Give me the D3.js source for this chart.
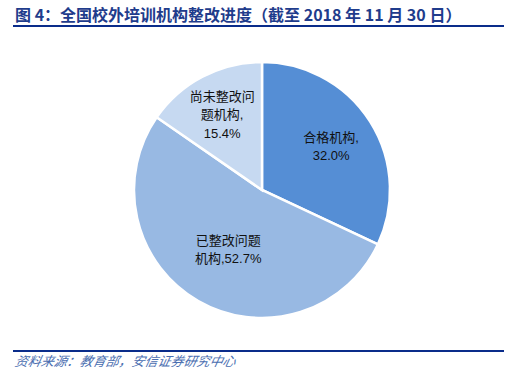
<!DOCTYPE html>
<html>
<head>
<meta charset="utf-8">
<script src="https://cdn.jsdelivr.net/npm/d3@7"></script>
<style>
  body { margin: 0; background: #fff; }
</style>
</head>
<body>
<div id="wrapper"></div>
<script>
// Data
const categories = ["合格机构", "已整改问题机构", "尚未整改问题机构"];
const values = [32.0, 52.7, 15.4];
const labelLines = [
    ["合格机构,", "32.0%"],
    ["已整改问题", "机构,52.7%"],
    ["尚未整改问", "题机构,", "15.4%"]
];
const colors = ["#558ed5", "#98b9e3", "#c6d9f1"];

const title = "图 4：全国校外培训机构整改进度（截至 2018 年 11 月 30 日）";
const source = "资料来源：教育部，安信证券研究中心";

let dimension = {
    width: 526,
    height: 388,
    cx: 262,
    cy: 190,
    radius: 128,
}

const svg = d3.select("#wrapper")
    .append("svg")
    .attr("width", dimension.width)
    .attr("height", dimension.height)

// Title and rules
svg.append("text")
    .attr("x", 15)
    .attr("y", 21)
    .attr("font-family", "'Noto Sans CJK SC', 'Liberation Sans', sans-serif")
    .attr("font-size", 16)
    .attr("font-weight", "bold")
    .attr("fill", "#1f3c8c")
    .text(title)

svg.append("rect")
    .attr("x", 13).attr("y", 25)
    .attr("width", 491).attr("height", 2)
    .attr("fill", "#0a2c8a")

svg.append("rect")
    .attr("x", 13).attr("y", 350)
    .attr("width", 491).attr("height", 2)
    .attr("fill", "#0a2c8a")

svg.append("text")
    .attr("x", 15)
    .attr("y", 366)
    .attr("font-family", "'Noto Sans CJK SC', sans-serif")
    .attr("font-size", 13)
    .attr("font-style", "italic")
    .attr("fill", "#4a6eb0")
    .attr("transform", "skewX(-12) translate(77,0)")
    .text(source)

// Pie
const pie = d3.pie().sort(null).value(d => d);
const arcs = pie(values);
const arc = d3.arc().innerRadius(0).outerRadius(dimension.radius);

const bounds = svg.append("g")
    .attr("transform", `translate(${dimension.cx},${dimension.cy})`)

bounds.selectAll("path")
    .data(arcs)
    .join("path")
    .attr("d", arc)
    .attr("fill", (d, i) => colors[i])
    .attr("stroke", "#fff")
    .attr("stroke-width", 2.5)
    .attr("stroke-linejoin", "miter")

// Labels, placed along a ratio of the radius through each slice's middle angle
const labelRadius = [0.64, 0.53, 0.67];
const labelArcs = arcs.map((d, i) => {
    const r = dimension.radius * labelRadius[i];
    return d3.arc().innerRadius(r).outerRadius(r).centroid(d);
});

const lineHeight = 18.5;
bounds.selectAll("g.label")
    .data(arcs)
    .join("g")
    .attr("class", "label")
    .each(function (d, i) {
        const [x, y] = labelArcs[i];
        const lines = labelLines[i];
        const top = y - (lines.length - 1) * lineHeight / 2;
        const t = d3.select(this).append("text")
            .attr("text-anchor", "middle")
            .attr("font-family", "'Liberation Sans', 'Noto Sans CJK SC', sans-serif")
            .attr("font-size", 13)
            .attr("fill", "#111")
        lines.forEach((line, j) => {
            t.append("tspan")
                .attr("x", x)
                .attr("y", top + j * lineHeight + 5)
                .text(line)
        })
    })
</script>
</body>
</html>
